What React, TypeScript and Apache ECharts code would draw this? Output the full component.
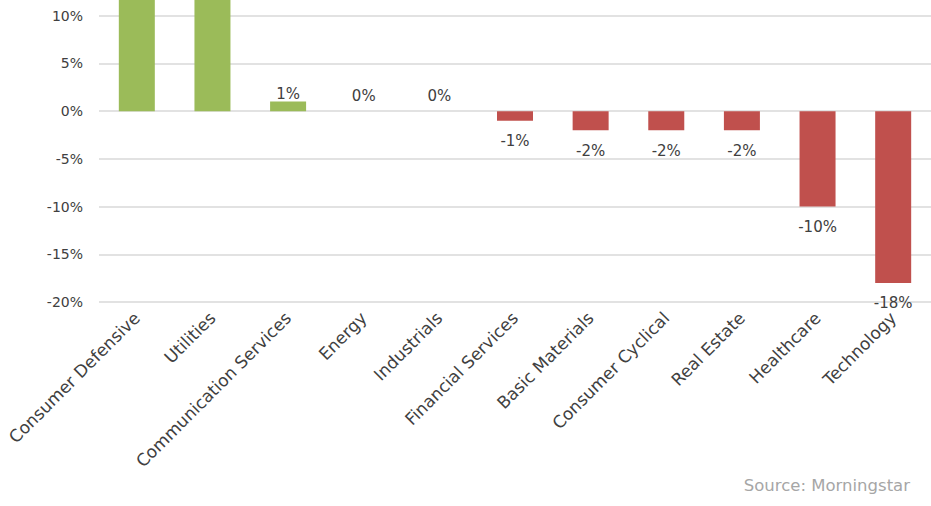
import React, { useEffect, useRef } from "react";
import * as echarts from "echarts";

const categories = [
  "Consumer Defensive",
  "Utilities",
  "Communication Services",
  "Energy",
  "Industrials",
  "Financial Services",
  "Basic Materials",
  "Consumer Cyclical",
  "Real Estate",
  "Healthcare",
  "Technology",
];
const values = [14, 13, 1, 0, 0, -1, -2, -2, -2, -10, -18];
const yTicks = [-20, -15, -10, -5, 0, 5, 10, 15];
// The reference is cropped at the top: only values up to about 11.7% are in view.
const VISIBLE_MAX = 11.7;

const GREEN = "#9bbb59";
const RED = "#c0504d";
const TEXT = "#404040";
const FONT = "'Century Gothic', 'DejaVu Sans', sans-serif";
const CROP = 32;

export default function App() {
  const ref = useRef<HTMLDivElement>(null);
  useEffect(() => {
    if (!ref.current) return;
    const chart = echarts.init(ref.current, undefined, { renderer: "svg" });
    chart.setOption({
      animation: false,
      backgroundColor: "#ffffff",
      grid: { left: 99, right: 0, top: 0, bottom: 204, containLabel: false },
      xAxis: {
        type: "category",
        data: categories,
        axisLine: { show: false },
        axisTick: { show: false },
        axisLabel: {
          rotate: 45,
          interval: 0,
          margin: 13,
          color: TEXT,
          fontFamily: FONT,
          fontSize: 17,
        },
      },
      yAxis: {
        type: "value",
        min: yTicks[0],
        max: yTicks[yTicks.length - 1],
        interval: 5,
        axisLine: { show: false },
        axisTick: { show: false },
        axisLabel: {
          color: TEXT,
          fontFamily: FONT,
          fontSize: 14,
          margin: 16,
          formatter: (v: number) => (v > VISIBLE_MAX ? "" : `${v}%`),
        },
        splitLine: { lineStyle: { color: "#d9d9d9", width: 1.5 } },
      },
      series: [
        {
          type: "bar",
          barWidth: 36,
          data: values.map((v) => ({
            value: v,
            itemStyle: { color: v >= 0 ? GREEN : RED },
            label: {
              show: v < VISIBLE_MAX,
              position: v >= 0 ? "top" : "bottom",
              distance: v > 0 ? 0 : v === 0 ? 8 : 13,
              color: TEXT,
              fontFamily: FONT,
              fontSize: 15,
              formatter: `${v}%`,
            },
          })),
        },
      ],
      graphic: [
        {
          type: "text",
          right: 21,
          top: 477 + CROP,
          style: {
            text: "Source: Morningstar",
            fill: "#a6a6a6",
            fontFamily: FONT,
            fontSize: 16.5,
          },
        },
      ],
    });
    return () => chart.dispose();
  }, []);
  return (
    <div style={{ position: "fixed", left: 0, top: 0, width: 931, height: 506, overflow: "hidden" }}>
      <div
        ref={ref}
        style={{ position: "absolute", left: 0, top: -CROP, width: 931, height: 506 + CROP }}
      />
    </div>
  );
}
